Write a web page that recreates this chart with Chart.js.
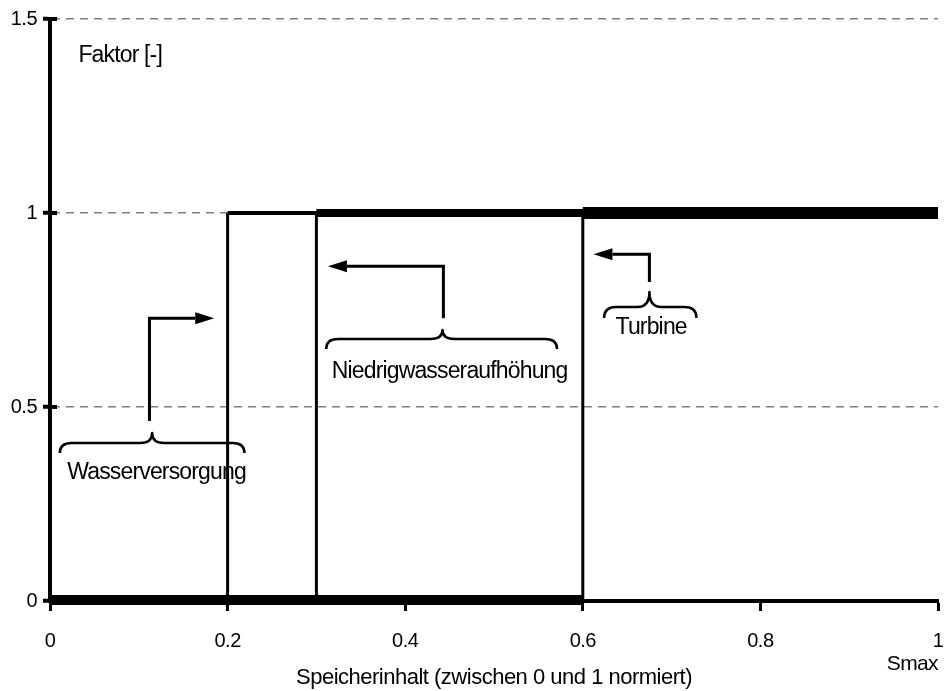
<!DOCTYPE html>
<html>
<head>
<meta charset="utf-8">
<script src="https://cdn.jsdelivr.net/npm/chart.js@4/dist/chart.umd.min.js"></script>
<style>
  html, body { margin: 0; padding: 0; background: #fff; }
  canvas { display: block; }
</style>
</head>
<body>
<canvas id="chart" width="945" height="691"></canvas>
<script>
/* Speicherbewirtschaftung - Faktor je Nutzung über Speicherinhalt */

const FONT = '"Liberation Sans", Arial, sans-serif';

// Stufenfunktionen (Speicherinhalt normiert -> Faktor)
const wasserX = [0, 0.2, 0.2, 1];
const wasserY = [0, 0, 1, 1];
const niedrigX = [0, 0.3, 0.3, 1];
const niedrigY = [0, 0, 1, 1];
const turbineX = [0, 0.6, 0.6, 1];
const turbineY = [0, 0, 1, 1];

const xTicks = [0, 0.2, 0.4, 0.6, 0.8, 1];
const yTicks = [0, 0.5, 1, 1.5];

// Beschriftungen mit Klammern und Pfeilen (in Achsenwerten)
const braces = [
    { text: 'Wasserversorgung', x0: 0.011, xm: 0.115, x1: 0.219, y: 0.407, down: 10, up: 10, tx: 0.12, ty: 0.33 },
    { text: 'Niedrigwasseraufhöhung', x0: 0.311, xm: 0.442, x1: 0.571, y: 0.675, down: 10, up: 9, tx: 0.45, ty: 0.59 },
    { text: 'Turbine', x0: 0.624, xm: 0.675, x1: 0.728, y: 0.758, down: 11, up: 15, tx: 0.677, ty: 0.704 }
];
const arrows = [
    { x: 0.112, y0: 0.464, y1: 0.729, xEnd: 0.185 },
    { x: 0.443, y0: 0.729, y1: 0.863, xEnd: 0.313 },
    { x: 0.675, y0: 0.822, y1: 0.894, xEnd: 0.612 }
];

function toPoints(xs, ys) {
    return xs.map((x, i) => ({ x: x, y: ys[i] }));
}

function stepDataset(label, xs, ys, width) {
    return {
        label: label,
        data: toPoints(xs, ys),
        borderColor: '#000',
        borderWidth: width,
        borderCapStyle: 'butt',
        pointRadius: 0,
        tension: 0,
        clip: { left: 2, top: 10, right: 2, bottom: 4 },
        segment: {
            // senkrechte Sprünge dünn gezeichnet
            borderWidth: ctx => ctx.p0.parsed.x === ctx.p1.parsed.x ? 3 : undefined
        }
    };
}

const annotationPlugin = {
    id: 'annotations',
    beforeDraw(chart) {
        chart.ctx.letterSpacing = '-0.5px';
    },
    afterDatasetsDraw(chart) {
        const ctx = chart.ctx;
        const xs = chart.scales.x;
        const ys = chart.scales.y;
        const px = v => xs.getPixelForValue(v);
        const py = v => ys.getPixelForValue(v);

        ctx.save();
        ctx.strokeStyle = '#000';
        ctx.fillStyle = '#000';

        // kleine Striche der y-Achse nach innen
        ctx.lineWidth = 4;
        yTicks.forEach(v => {
            ctx.beginPath();
            ctx.moveTo(xs.left, py(v));
            ctx.lineTo(xs.left + 7, py(v));
            ctx.stroke();
        });

        // geschweifte Klammern
        ctx.lineWidth = 2.5;
        ctx.lineJoin = 'round';
        braces.forEach(b => {
            const x0 = px(b.x0), xm = px(b.xm), x1 = px(b.x1), y = py(b.y);
            const r = 12;
            ctx.beginPath();
            ctx.moveTo(x0, y + b.down);
            ctx.quadraticCurveTo(x0, y, x0 + r, y);
            ctx.lineTo(xm - r, y);
            ctx.quadraticCurveTo(xm, y, xm, y - b.up);
            ctx.quadraticCurveTo(xm, y, xm + r, y);
            ctx.lineTo(x1 - r, y);
            ctx.quadraticCurveTo(x1, y, x1, y + b.down);
            ctx.stroke();
        });

        // Pfeile
        ctx.lineWidth = 3;
        ctx.lineJoin = 'miter';
        arrows.forEach(a => {
            const x = px(a.x), y0 = py(a.y0), y1 = py(a.y1), xe = px(a.xEnd);
            const dir = xe > x ? 1 : -1;
            const head = 19;
            ctx.beginPath();
            ctx.moveTo(x, y0);
            ctx.lineTo(x, y1);
            ctx.lineTo(xe - dir * head, y1);
            ctx.stroke();
            ctx.beginPath();
            ctx.moveTo(xe, y1);
            ctx.lineTo(xe - dir * head, y1 - 6);
            ctx.lineTo(xe - dir * head, y1 + 6);
            ctx.closePath();
            ctx.fill();
        });

        // Texte
        ctx.font = '23px ' + FONT;
        ctx.letterSpacing = '-0.85px';
        ctx.textBaseline = 'middle';
        ctx.textAlign = 'center';
        braces.forEach(b => ctx.fillText(b.text, px(b.tx), py(b.ty)));

        ctx.textAlign = 'left';
        ctx.fillText('Faktor [-]', px(0.032), py(1.405));

        ctx.font = '21px ' + FONT;
        ctx.letterSpacing = '-0.6px';
        ctx.textAlign = 'right';
        ctx.fillText('Smax', xs.right, py(-0.162));

        ctx.restore();
    }
};

new Chart(document.getElementById('chart'), {
    type: 'line',
    data: {
        datasets: [
            stepDataset('Wasserversorgung', wasserX, wasserY, 4),
            stepDataset('Niedrigwasseraufhöhung', niedrigX, niedrigY, 8),
            stepDataset('Turbine', turbineX, turbineY, 12)
        ]
    },
    options: {
        responsive: false,
        animation: false,
        layout: { padding: { top: 19, right: 7, left: 0, bottom: 0 } },
        plugins: {
            legend: { display: false },
            tooltip: { enabled: false }
        },
        scales: {
            x: {
                type: 'linear',
                position: 'bottom',
                min: 0,
                max: 1,
                afterFit: s => {
                    s.height = 90;
                    s.paddingLeft = 0;
                    s.paddingRight = 0;
                },
                afterBuildTicks: s => { s.ticks = xTicks.map(v => ({ value: v })); },
                ticks: {
                    color: '#000',
                    font: { family: FONT, size: 20 },
                    padding: 18,
                    maxRotation: 0,
                    autoSkip: false,
                    callback: v => String(v)
                },
                grid: {
                    drawOnChartArea: false,
                    color: '#000',
                    tickColor: '#000',
                    tickWidth: 3,
                    tickLength: 10
                },
                border: { color: '#000', width: 4 },
                title: {
                    display: true,
                    text: 'Speicherinhalt (zwischen 0 und 1 normiert)',
                    color: '#000',
                    font: { family: FONT, size: 22 },
                    padding: { top: 0, bottom: 0 }
                }
            },
            y: {
                min: 0,
                max: 1.5,
                afterFit: s => {
                    s.width = 50;
                    s.paddingTop = 0;
                    s.paddingBottom = 0;
                },
                afterBuildTicks: s => { s.ticks = yTicks.map(v => ({ value: v })); },
                ticks: {
                    color: '#000',
                    font: { family: FONT, size: 20 },
                    padding: 6,
                    callback: v => String(v)
                },
                grid: {
                    color: '#808080',
                    lineWidth: 1.5,
                    tickColor: '#000',
                    tickWidth: 4,
                    tickLength: 7,
                    tickBorderDash: [1, 0]
                },
                border: { color: '#000', width: 4, dash: [8, 6] }
            }
        }
    },
    plugins: [annotationPlugin]
});
</script>
</body>
</html>
